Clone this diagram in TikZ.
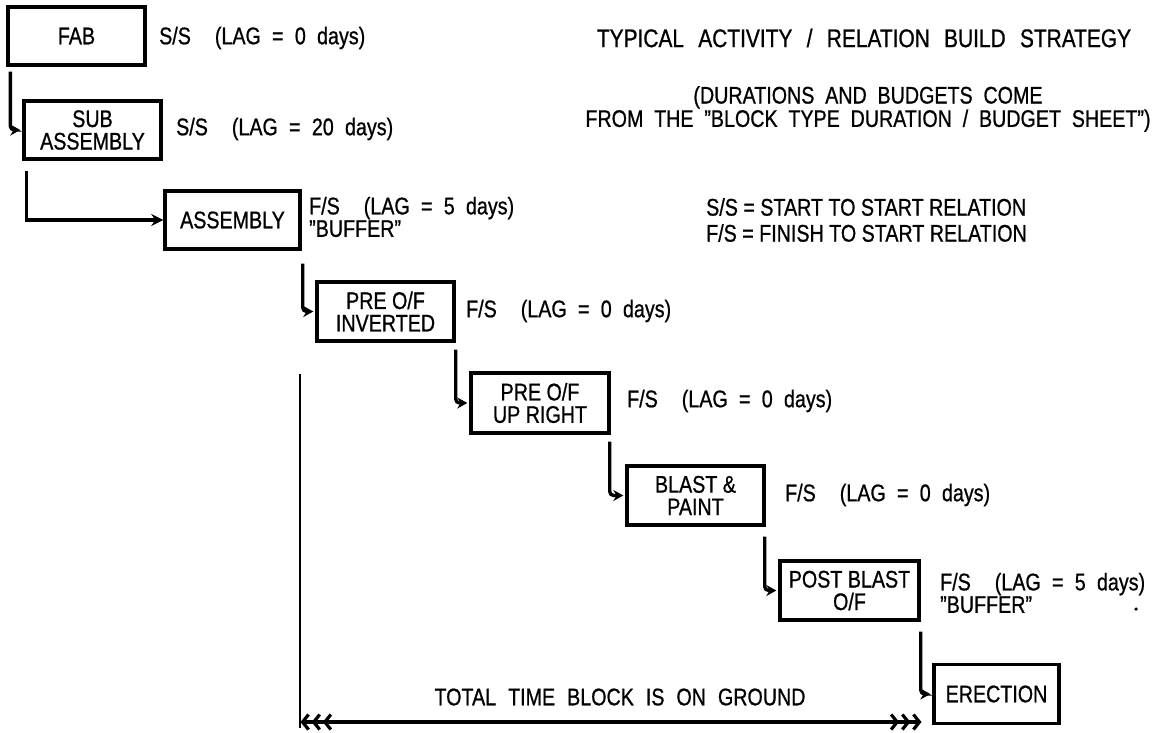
\documentclass[tikz,border=0pt]{standalone}
\usepackage{fontspec}
\setmainfont[FakeStretch=0.82,FakeBold=0.8]{Liberation Sans}
\usetikzlibrary{arrows.meta}
\newcommand{\widesp}{\spaceskip=0.45em plus 0.1em\relax}
\newcommand{\labsp}{\spaceskip=0.47em\relax}
\newcommand{\gap}{\hspace{1em}}
\newcommand{\dq}{\char34\relax}
\tikzset{
  box/.style={draw, line width=3.4pt, inner sep=0pt, align=center, font=\fontsize{24}{22.5}\selectfont},
  txt/.style={inner sep=0pt, align=left, font=\fontsize{24}{18.5}\selectfont},
  conn/.style={line width=3.4pt},
  hook/.style={line width=3.4pt, rounded corners=4pt, -{Stealth[length=10pt,width=11pt]}, shorten >=2pt},
  trip/.tip={Straight Barb[length=6pt,width=15pt,line width=3.2pt,sep=1.5pt] Straight Barb[length=6pt,width=15pt,line width=3.2pt,sep=1.5pt] Straight Barb[length=6pt,width=15pt,line width=3.2pt,sep=1.5pt]}
}
\begin{document}
\begin{tikzpicture}[x=1pt,y=-1pt]
\useasboundingbox (0,0) rectangle (1152,732);
% boxes
\node[box, minimum width=137pt, minimum height=58pt] (fab) at (76.5,36) {FAB};
\node[box, minimum width=137pt, minimum height=58pt] (sub) at (92.5,130) {SUB\\ASSEMBLY};
\node[box, minimum width=135pt, minimum height=58pt] (asm) at (232.5,220) {ASSEMBLY};
\node[box, minimum width=137pt, minimum height=59pt] (preinv) at (385.5,311.5) {PRE O/F\\INVERTED};
\node[box, minimum width=138pt, minimum height=60pt] (preup) at (540,403) {PRE O/F\\UP RIGHT};
\node[box, minimum width=137pt, minimum height=59pt] (blast) at (695.5,495.5) {BLAST \&\\PAINT};
\node[box, minimum width=139pt, minimum height=59pt] (post) at (849.5,590.5) {POST BLAST\\O/F};
\node[box, minimum width=125pt, minimum height=59pt] (erect) at (996.5,694) {ERECTION};
% labels
\node[txt, anchor=west] (l1) at (159,38) {\labsp S/S\gap(LAG = 0 days)};
\node[txt, anchor=west] (l2) at (176,129) {\labsp S/S\gap(LAG = 20 days)};
\node[txt, anchor=west] (l3) at (309,217) {\labsp F/S\gap(LAG = 5 days)\\\dq BUFFER\dq};
\node[txt, anchor=west] (l4) at (466,311) {\labsp F/S\gap(LAG = 0 days)};
\node[txt, anchor=west] (l5) at (627,401) {\labsp F/S\gap(LAG = 0 days)};
\node[txt, anchor=west] (l6) at (785,495) {\labsp F/S\gap(LAG = 0 days)};
\node[txt, anchor=west] (l7) at (940,593) {\labsp F/S\gap(LAG = 5 days)\\\dq BUFFER\dq};
\node[circle, fill, inner sep=0pt, minimum size=3.5pt] (dot) at (1136,609) {};
\node[txt, anchor=center, font=\fontsize{25.5}{19}\selectfont] (title) at (864,38) {\spaceskip=0.56em\relax TYPICAL ACTIVITY / RELATION BUILD STRATEGY};
\node[txt, align=center, font=\fontsize{24}{19.5}\selectfont] (note) at (868,109) {\widesp (DURATIONS AND BUDGETS COME\\\widesp FROM THE \dq BLOCK TYPE DURATION / BUDGET SHEET\dq)};
\node[txt, anchor=west, font=\fontsize{24}{26}\selectfont] (legend) at (706,220) {S/S = START TO START RELATION\\F/S = FINISH TO START RELATION};
\node[txt, anchor=center] (total) at (620,697) {\spaceskip=0.5em\relax TOTAL TIME BLOCK IS ON GROUND};
% connectors
\draw[hook] ([xshift=4pt,yshift=-5pt]fab.south west) |- (sub.west);
\draw[conn, -{Stealth[length=12pt,width=12pt]}] ([xshift=4pt,yshift=-10pt]sub.south west) |- (asm.west);
\draw[hook] ([xshift=1pt,yshift=-13pt]asm.south east) |- (preinv.west);
\draw[hook] ([xshift=0pt,yshift=-7pt]preinv.south east) |- (preup.west);
\draw[hook] ([xshift=-1pt,yshift=-7pt]preup.south east) |- (blast.west);
\draw[hook] ([xshift=-1pt,yshift=-10pt]blast.south east) |- (post.west);
\draw[hook] ([xshift=0pt,yshift=-10pt]post.south east) |- (erect.west);
% ground time
\coordinate (gtop) at (300,374);
\coordinate (gbot) at (300,728);
\coordinate (gl) at (299,722);
\coordinate (gr) at (923,722);
\draw[line width=2.4pt] (gtop) -- (gbot);
\draw[line width=3.4pt, trip-trip] (gl) -- (gr);
\end{tikzpicture}
\end{document}
